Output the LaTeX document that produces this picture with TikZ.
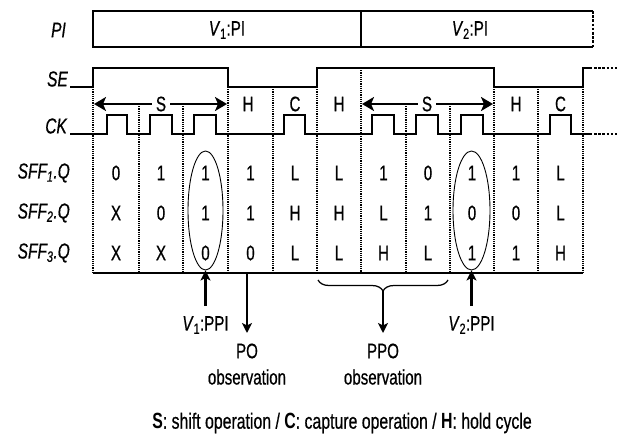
\documentclass[tikz,border=0pt]{standalone}
\usepackage{fontspec}
\setmainfont[FakeStretch=0.72, UprightFeatures={FakeBold=0.6}, ItalicFeatures={FakeBold=0.6}]{Liberation Sans}
\usetikzlibrary{arrows.meta,shapes.geometric,decorations.pathreplacing}
\begin{document}
\begin{tikzpicture}[x=1pt,y=-1pt,
  font=\fontsize{21}{24}\selectfont,
  sig/.style={line width=1.25pt},
  gridline/.style={line width=1.2pt, dash pattern=on 1.2pt off 1pt},
  contdots/.style={line width=2.6pt, dash pattern=on 2.6pt off 1.6pt},
  oparrow/.style={line width=2.5pt, -{Stealth[length=12pt,width=14pt,inset=3pt]}},
  obsarrow/.style={line width=2.2pt, -{Stealth[length=10pt,width=10pt,inset=2.5pt]}},
  txt/.style={inner sep=0pt},
  siglab/.style={inner sep=0pt, anchor=east, font=\fontsize{21.5}{24}\selectfont\itshape},
  ppi/.style={draw, ellipse, line width=0.9pt, inner sep=0pt}
]
\useasboundingbox (0,0) rectangle (621,436);

% PI bus
\node[siglab] (piL) at (66,30) {PI};
\draw[sig] (593,11) -- (93,11) -- (93,47) -- (593,47);
\draw[sig] (361,11) -- (361,47);
\draw[contdots] (593,11) -- (593,47);
\node[txt] (v1pi) at (227,30) {\textit{V}\textsubscript{1}:PI};
\node[txt] (v2pi) at (470,30) {\textit{V}\textsubscript{2}:PI};

% SE
\node[siglab] (seL) at (68,79) {SE};
\draw[sig] (70,87) -- (93,87) -- (93,68) -- (228,68) -- (228,87) -- (317,87) -- (317,68)
  -- (494,68) -- (494,87) -- (583,87) -- (583,68) -- (592,68);
\draw[contdots] (594,68) -- (617,68);

% CK
\node[siglab] (ckL) at (67,126) {CK};
\draw[sig] (70,134) -- (107,134) -- (107,115) -- (127,115) -- (127,134)
  -- (150,134) -- (150,115) -- (172,115) -- (172,134)
  -- (194,134) -- (194,115) -- (216,115) -- (216,134)
  -- (284,134) -- (284,115) -- (305,115) -- (305,134)
  -- (372,134) -- (372,115) -- (394,115) -- (394,134)
  -- (416,134) -- (416,115) -- (438,115) -- (438,134)
  -- (461,134) -- (461,115) -- (483,115) -- (483,134)
  -- (550,134) -- (550,115) -- (571,115) -- (571,134) -- (592,134);
\draw[contdots] (594,134) -- (617,134);

% grid lines
\foreach \x/\t in {93/87,139/104,183/104,228/87,273/87,317/87,361/68,406/104,450/104,494/87,538/87,583/87}
  \draw[gridline] (\x,\t) -- (\x,273);
\draw[sig] (93,273) -- (583,273);

% operation labels
\node[txt, fill=white, inner xsep=4pt, inner ysep=1pt] (s1) at (161,104) {S};
\node[txt, fill=white, inner xsep=4pt, inner ysep=1pt] (s2) at (427,104) {S};
\coordinate (s1l) at (94,104);
\coordinate (s1r) at (227,104);
\coordinate (s2l) at (362,104);
\coordinate (s2r) at (493,104);
\draw[oparrow] (s1.west) -- (s1l);
\draw[oparrow] (s1.east) -- (s1r);
\draw[oparrow] (s2.west) -- (s2l);
\draw[oparrow] (s2.east) -- (s2r);
\node[txt] (h1) at (248,104) {H};
\node[txt] (c1) at (295,104) {C};
\node[txt] (h2) at (339,104) {H};
\node[txt] (h3) at (516,104) {H};
\node[txt] (c2) at (560.5,104) {C};

% row labels
\node[siglab] (r1) at (70,173) {SFF\textsubscript{1}.Q};
\node[siglab] (r2) at (70,213) {SFF\textsubscript{2}.Q};
\node[siglab] (r3) at (70,253) {SFF\textsubscript{3}.Q};

% values
\foreach \cx/\a/\b/\c [count=\i] in {116/0/X/X, 161/1/0/X, 205.5/1/1/0, 250.5/1/1/0, 295/L/H/L,
   339/L/H/L, 383.5/1/L/H, 428/0/1/L, 472/1/0/1, 516/1/0/1, 560.5/L/L/H} {
  \node[txt] (va\i) at (\cx,173) {\a};
  \node[txt] (vb\i) at (\cx,213) {\b};
  \node[txt] (vc\i) at (\cx,253) {\c};
}

% PPI ellipses
\node[ppi, minimum width=35pt, minimum height=119pt] (e1) at (205.5,210.5) {};
\node[ppi, minimum width=37pt, minimum height=119pt] (e2) at (471.5,210.5) {};

% V1:PPI
\coordinate (p1s) at (205.5,306);
\draw[obsarrow] (p1s) -- (e1.south);
\node[txt] (v1ppi) at (205.5,325) {\textit{V}\textsubscript{1}:PPI};
% V2:PPI
\coordinate (p2s) at (471.5,306);
\draw[obsarrow] (p2s) -- (e2.south);
\node[txt] (v2ppi) at (471.5,325) {\textit{V}\textsubscript{2}:PPI};

% PO observation
\coordinate (pob) at (247,273);
\coordinate (poe) at (247,333);
\draw[obsarrow] (pob) -- (poe);
\node[txt] (po) at (247,351) {PO};
\node[txt] (poobs) at (247,377) {observation};

% PPO observation
\draw[sig, decorate, decoration={brace, mirror, amplitude=11pt}] (318,280) -- (448,280);
\coordinate (ppob) at (383,291);
\coordinate (ppoe) at (383,333);
\draw[obsarrow] (ppob) -- (ppoe);
\node[txt] (ppo) at (383,351) {PPO};
\node[txt] (ppoobs) at (383,377) {observation};

% legend
\node[txt, font=\fontsize{22}{24}\selectfont] (legend) at (342,423)
  {\textbf{S}: shift operation / \textbf{C}: capture operation / \textbf{H}: hold cycle};
\end{tikzpicture}
\end{document}
